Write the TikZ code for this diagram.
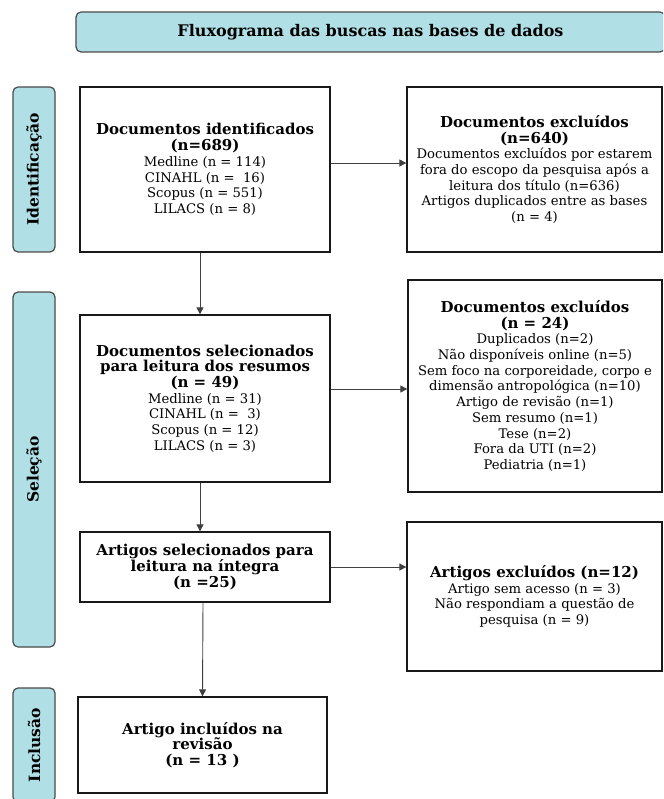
\documentclass[tikz,border=0pt]{standalone}
\usepackage{fontspec}
\setmainfont{DejaVu Serif}
\usetikzlibrary{arrows.meta}
\definecolor{pblue}{HTML}{B0E0E6}
\definecolor{edgegray}{HTML}{4A4A4A}
\newcommand{\hd}[1]{{\fontsize{15}{18}\selectfont\bfseries #1}}
\begin{document}
\begin{tikzpicture}[x=1pt,y=-1pt,
  box/.style={draw=black!90, line width=1.3pt, fill=white, align=center, inner sep=2pt,
    font=\fontsize{13.2}{15.7}\selectfont},
  lab/.style={draw=edgegray, line width=1.2pt, fill=pblue, rounded corners=5pt,
    font=\fontsize{15.5}{18}\selectfont\bfseries},
  arr/.style={draw=black!75, line width=0.9pt, -{Triangle[length=7pt,width=7pt]}}]
\useasboundingbox (0,0) rectangle (663,799);
\clip (0,0) rectangle (663,799);

% title
\node[lab, minimum width=589, minimum height=40, font=\fontsize{16}{18}\selectfont\bfseries] (title) at (370.5,32) {Fluxograma das buscas nas bases de dados};

% side labels
\node[lab, rotate=90, minimum width=165, minimum height=42] (lid) at (34,169.5) {Identificação};
\node[lab, rotate=90, minimum width=355, minimum height=42] (lsel) at (34,469.5) {Seleção};
\node[lab, rotate=90, minimum width=114, minimum height=42] (linc) at (34,745) {Inclusão};

% left column
\node[box, minimum width=250, minimum height=165] (b1) at (205,169.5)
  {\hd{Documentos identificados}\\ \hd{(n=689)}\\ Medline (n = 114)\\ CINAHL (n = \ 16)\\ Scopus (n = 551)\\ LILACS (n = 8)};
\node[box, minimum width=250, minimum height=167] (b2) at (205,398.5)
  {\hd{Documentos selecionados}\\ \hd{para leitura dos resumos}\\ \hd{(n = 49)}\\ Medline (n = 31)\\ CINAHL (n = \ 3)\\ Scopus (n = 12)\\ LILACS (n = 3)};
\node[box, minimum width=250, minimum height=70] (b3) at (205,567)
  {\hd{Artigos selecionados para}\\ \hd{leitura na íntegra}\\ \hd{(n =25)}};
\node[box, minimum width=249, minimum height=96] (b4) at (202.5,745)
  {\hd{Artigo incluídos na}\\ \hd{revisão}\\ \hd{(n = 13 )}};

% right column
\node[box, minimum width=255, minimum height=165] (r1) at (534.5,169.5)
  {\hd{Documentos excluídos}\\ \hd{(n=640)}\\ Documentos excluídos por estarem\\ fora do escopo da pesquisa após a\\ leitura dos título (n=636)\\ Artigos duplicados entre as bases\\ (n = 4)};
\node[box, minimum width=254, minimum height=212] (r2) at (535,386)
  {\hd{Documentos excluídos}\\ \hd{(n = 24)}\\ Duplicados (n=2)\\ Não disponíveis online (n=5)\\ Sem foco na corporeidade, corpo e\\ dimensão antropológica (n=10)\\ Artigo de revisão (n=1)\\ Sem resumo (n=1)\\ Tese (n=2)\\ Fora da UTI (n=2)\\ Pediatria (n=1)};
\node[box, minimum width=255, minimum height=149] (r3) at (534.5,596.5)
  {\hd{Artigos excluídos (n=12)}\\ Artigo sem acesso (n = 3)\\ Não respondiam a questão de\\ pesquisa (n = 9)};

% connectors
\draw[arr] ([xshift=-5pt]b1.south) -- ([xshift=-5pt]b2.north);
\draw[arr] ([xshift=-5pt]b2.south) -- ([xshift=-5pt]b3.north);
\draw[arr] ([xshift=-2pt]b3.south) -- (b4.north);
\draw[arr] (b1.east |- 0,163) -- (r1.west |- 0,163);
\draw[arr] (b2.east |- 0,389) -- (r2.west |- 0,389);
\draw[arr] (b3.east) -- (r3.west |- b3.east);
\end{tikzpicture}
\end{document}
